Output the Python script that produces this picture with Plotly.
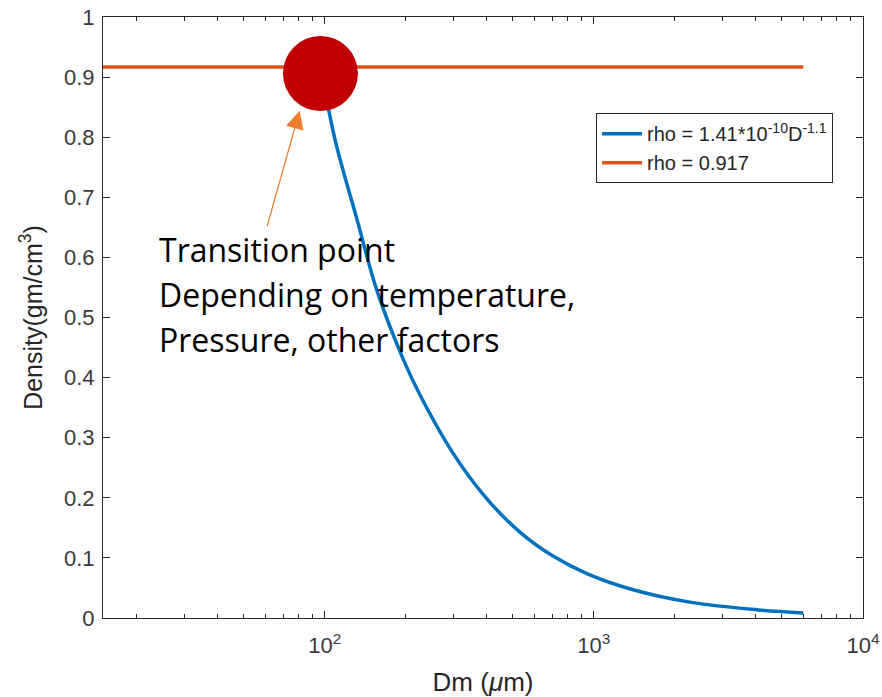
import math
import plotly.graph_objects as go

# ---- data ----
dm_um = [100, 110, 132, 156, 196, 226, 300, 399, 531, 705, 937, 1400, 2300, 4100, 6000]
rho_power = [0.88, 0.79, 0.662, 0.546, 0.43, 0.371, 0.274, 0.199, 0.143, 0.103, 0.0744, 0.047, 0.026, 0.0135, 0.0085]
const_x = [15, 6000]
const_rho = [0.917, 0.917]
transition_x = [96.4]
transition_y = [0.906]
x_tickvals = [100, 1000, 10000]
x_ticktext = ["10<sup>2</sup>", "10<sup>3</sup>", "10<sup>4</sup>"]
y_tickvals = [0, 0.1, 0.2, 0.3, 0.4, 0.5, 0.6, 0.7, 0.8, 0.9, 1]
y_ticktext = ["0", "0.1", "0.2", "0.3", "0.4", "0.5", "0.6", "0.7", "0.8", "0.9", "1"]
minor_vals = [m * d for d in (10, 100, 1000) for m in range(2, 10)]
note_lines = ["Transition point", "Depending on temperature,", "Pressure, other factors"]

AX = "#262626"
SANS = "Liberation Sans, Arial, sans-serif"
TICKFONT = dict(family=SANS, size=22, color="#3a3a3a")

fig = go.Figure()
fig.add_trace(go.Scatter(
    x=dm_um, y=rho_power, mode="lines",
    line=dict(color="#0072BD", width=3.5, shape="spline"),
    name="rho = 1.41*10<sup>-10</sup>D<sup>-1.1</sup>"))
fig.add_trace(go.Scatter(
    x=const_x, y=const_rho, mode="lines",
    line=dict(color="#D95319", width=3.5),
    name="rho = 0.917"))
fig.add_trace(go.Scatter(
    x=transition_x, y=transition_y, mode="markers",
    marker=dict(color="#C00000", size=75, line=dict(width=0)),
    showlegend=False, hoverinfo="skip"))

fig.update_layout(
    width=882, height=697,
    margin=dict(l=103, r=19, t=17, b=79, autoexpand=False),
    paper_bgcolor="white", plot_bgcolor="white",
    showlegend=True,
    legend=dict(x=0.9606, xanchor="right", y=0.84, yanchor="top",
                bordercolor=AX, borderwidth=1, bgcolor="white",
                font=dict(family=SANS, size=20, color="#262626"),
                tracegroupgap=0, itemwidth=40),
    xaxis=dict(type="log", range=[math.log10(15), 4], automargin=False,
               showline=True, linecolor=AX, linewidth=1, mirror="ticks",
               ticks="inside", ticklen=7, tickwidth=1, tickcolor=AX,
               tickvals=x_tickvals, ticktext=x_ticktext, tickfont=TICKFONT,
               ticklabelstandoff=8,
               minor=dict(tickvals=minor_vals, ticks="inside", ticklen=4, tickcolor=AX, showgrid=False),
               showgrid=False, zeroline=False,
               title=dict(text="Dm (<i>μ</i>m)", font=dict(family=SANS, size=26, color="#262626"), standoff=22)),
    yaxis=dict(range=[0, 1], automargin=False,
               showline=True, linecolor=AX, linewidth=1, mirror="ticks",
               ticks="inside", ticklen=7, tickwidth=1, tickcolor=AX,
               tickvals=y_tickvals, ticktext=y_ticktext, tickfont=TICKFONT,
               ticklabelstandoff=3,
               showgrid=False, zeroline=False,
               title=dict(text="Density(gm/cm<sup>3</sup>)", font=dict(family=SANS, size=25, color="#262626"), standoff=14)),
)

# arrow from the note to the transition point
fig.add_annotation(x=math.log10(80.7), y=0.844, xref="x", yref="y",
                   ax=-33, ay=117, axref="pixel", ayref="pixel",
                   text="", showarrow=True, arrowhead=2, arrowsize=3,
                   arrowwidth=1.2, arrowcolor="#ED7D31", standoff=0)

note_y = [0.613, 0.538, 0.463]
for txt, yy in zip(note_lines, note_y):
    fig.add_annotation(x=0.0714, y=yy, xref="paper", yref="paper",
                       xanchor="left", yanchor="middle", showarrow=False,
                       text=txt, font=dict(family="Open Sans, sans-serif", size=32, color="black"))

fig.write_html("out.html", config={"displayModeBar": False},
               post_script="document.body.style.margin='0';document.body.style.overflow='hidden';")
